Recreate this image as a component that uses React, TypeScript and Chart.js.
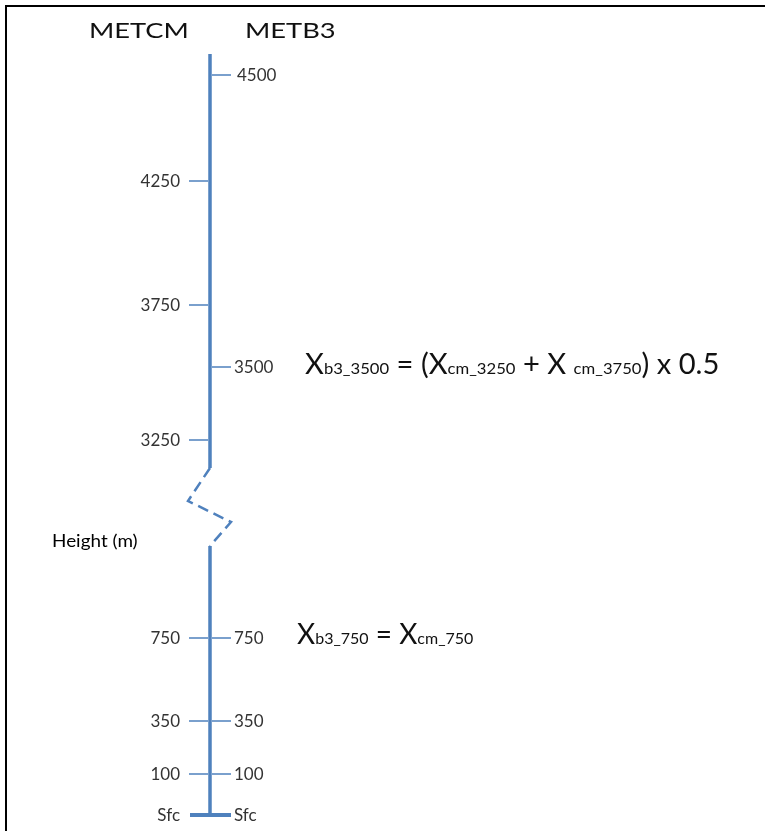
import React, { useEffect, useRef } from "react";
import { Chart, registerables } from "chart.js";

Chart.register(...registerables);

const columnTitles = ["METCM", "METB3"];
const metcmLevels = ["4250", "3750", "3250", "750", "350", "100"];
const metcmPos = [181, 305, 440, 638, 721, 774];
const metb3Levels = ["4500", "3500", "750", "350", "100"];
const metb3Pos = [75, 367, 638, 721, 774];
const surfaceLabel = "Sfc";
const surfacePos = 815;
const axisTopPos = 54;
const breakTopPos = 468;
const breakBottomPos = 546;
const axisLabel = "Height (m)";

type Run = { t: string; big: boolean };
const formulaUpper: Run[] = [
  { t: "X", big: true },
  { t: "b3_3500", big: false },
  { t: " = (", big: true },
  { t: "X", big: true },
  { t: "cm_3250", big: false },
  { t: " + X ", big: true },
  { t: "cm_3750", big: false },
  { t: ") x 0.5", big: true },
];
const formulaLower: Run[] = [
  { t: "X", big: true },
  { t: "b3_750", big: false },
  { t: " = ", big: true },
  { t: "X", big: true },
  { t: "cm_750", big: false },
];

// ---- layout / style constants ----
const W = 765;
const H = 831;
const AXIS_X = 210;
const LEFT_TICK = [189, 208];
const RIGHT_TICK = [212, 231];
const BLUE = "#4F81BD";
const FONT = "Lato, 'Open Sans', sans-serif";

function tickData(pos: number[], xs: number[]) {
  const out: { x: number; y: number | null }[] = [];
  pos.forEach((p) => {
    out.push({ x: xs[0], y: p });
    out.push({ x: xs[1], y: p });
    out.push({ x: xs[1], y: null });
  });
  return out;
}

const textPlugin = {
  id: "schematicText",
  afterDatasetsDraw(chart: any) {
    const ctx: CanvasRenderingContext2D = chart.ctx;
    const xs = chart.scales.x;
    const ys = chart.scales.y;
    const px = (v: number) => xs.getPixelForValue(v);
    const py = (v: number) => ys.getPixelForValue(v);

    const drawText = (
      text: string,
      x: number,
      y: number,
      font: string,
      color: string,
      align: CanvasTextAlign,
      sx = 1
    ) => {
      ctx.save();
      ctx.font = font;
      ctx.fillStyle = color;
      ctx.textBaseline = "alphabetic";
      ctx.textAlign = "left";
      const w = ctx.measureText(text).width * sx;
      let x0 = x;
      if (align === "right") x0 = x - w;
      if (align === "center") x0 = x - w / 2;
      ctx.translate(x0, y);
      ctx.scale(sx, 1);
      ctx.fillText(text, 0, 0);
      ctx.restore();
      return w;
    };

    // column titles
    const titleFont = `400 22px ${FONT}`;
    drawText(columnTitles[0], px(89), py(38), titleFont, "#111", "left", 1.24);
    drawText(columnTitles[1], px(245), py(38), titleFont, "#111", "left", 1.24);

    const lblFont = `400 17px ${FONT}`;
    const lblColor = "#333";
    metcmLevels.forEach((l, i) => {
      drawText(l, px(LEFT_TICK[0] - 9), py(metcmPos[i]) + 6, lblFont, lblColor, "right");
    });
    metb3Levels.forEach((l, i) => {
      drawText(l, px(RIGHT_TICK[1] + (i === 0 ? 6 : 3)), py(metb3Pos[i]) + 6, lblFont, lblColor, "left");
    });
    drawText(surfaceLabel, px(LEFT_TICK[0] - 9), py(surfacePos) + 6, lblFont, lblColor, "right");
    drawText(surfaceLabel, px(RIGHT_TICK[1] + 3), py(surfacePos) + 6, lblFont, lblColor, "left");

    drawText(axisLabel, px(52), py(547), `400 18px ${FONT}`, "#000", "left", 1.05);

    const drawRuns = (runs: Run[], x: number, y: number, sx: number) => {
      let cx = x;
      runs.forEach((r) => {
        const f = r.big ? `400 28px ${FONT}` : `400 16px ${FONT}`;
        cx += drawText(r.t, cx, y, f, "#111", "left", sx);
      });
    };
    drawRuns(formulaUpper, px(305), py(374), 1.04);
    drawRuns(formulaLower, px(297), py(644), 1.0);
  },
};

export default function App() {
  const ref = useRef<HTMLCanvasElement | null>(null);

  useEffect(() => {
    if (!ref.current) return;
    const line = (data: any[], width: number, extra: any = {}) => ({
      data,
      borderColor: BLUE,
      backgroundColor: BLUE,
      borderWidth: width,
      pointRadius: 0,
      fill: false,
      spanGaps: false,
      borderCapStyle: "butt",
      ...extra,
    });
    const chart = new Chart(ref.current, {
      type: "line",
      data: {
        datasets: [
          line(
            [
              { x: AXIS_X, y: axisTopPos },
              { x: AXIS_X, y: breakTopPos },
            ],
            3.5
          ),
          line(
            [
              { x: AXIS_X, y: breakTopPos },
              { x: 188, y: 501 },
              { x: 231, y: 522 },
              { x: AXIS_X, y: breakBottomPos },
            ],
            2.5,
            { borderDash: [11, 6] }
          ),
          line(
            [
              { x: AXIS_X, y: breakBottomPos },
              { x: AXIS_X, y: surfacePos },
            ],
            3.5
          ),
          line(
            [
              { x: LEFT_TICK[0] + 1, y: surfacePos },
              { x: RIGHT_TICK[1], y: surfacePos },
            ],
            4
          ),
          line(tickData(metcmPos, LEFT_TICK), 1.5),
          line(tickData(metb3Pos, RIGHT_TICK), 1.5),
        ],
      },
      options: {
        animation: false,
        responsive: false,
        maintainAspectRatio: false,
        devicePixelRatio: 1,
        layout: { padding: 0 },
        plugins: { legend: { display: false }, tooltip: { enabled: false } },
        elements: { line: { tension: 0 }, point: { radius: 0 } },
        scales: {
          x: { type: "linear", min: 0, max: W, display: false },
          y: { type: "linear", min: 0, max: H, reverse: true, display: false },
        },
      },
      plugins: [textPlugin],
    } as any);
    return () => chart.destroy();
  }, []);

  return (
    <div style={{ position: "fixed", left: 0, top: 0, width: W, height: H, background: "#fff" }}>
      <canvas ref={ref} width={W} height={H} style={{ display: "block" }} />
      <div
        style={{
          position: "absolute",
          left: 5,
          top: 5,
          width: W - 5,
          height: H - 5,
          borderTop: "2px solid #000",
          borderLeft: "2px solid #000",
          boxSizing: "border-box",
          pointerEvents: "none",
        }}
      />
    </div>
  );
}
